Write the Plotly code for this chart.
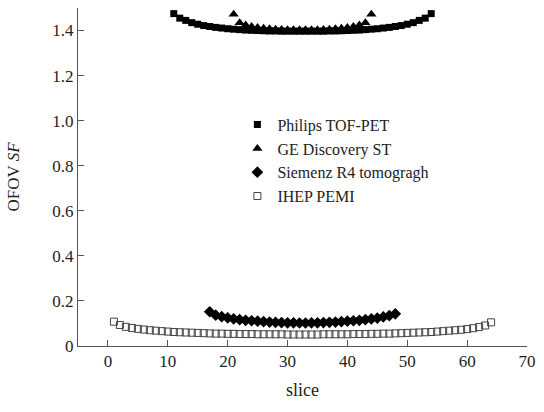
import plotly.graph_objects as go

philips_x = list(range(11, 55))
philips_y = [1.475, 1.455, 1.445, 1.435, 1.428, 1.422, 1.418, 1.414, 1.411, 1.408, 1.406,
             1.404, 1.402, 1.401, 1.400, 1.399, 1.398, 1.398, 1.397, 1.397, 1.397, 1.397,
             1.397, 1.397, 1.397, 1.397, 1.398, 1.398, 1.399, 1.400, 1.401, 1.402, 1.404,
             1.406, 1.408, 1.411, 1.414, 1.418, 1.422, 1.428, 1.435, 1.445, 1.455, 1.475]

ge_x = list(range(21, 45))
ge_y = [1.472, 1.435, 1.425, 1.418, 1.413, 1.410, 1.408, 1.406, 1.405, 1.404, 1.404, 1.403,
        1.403, 1.404, 1.404, 1.405, 1.406, 1.408, 1.410, 1.413, 1.418, 1.425, 1.435, 1.472]

siemens_x = list(range(17, 49))
siemens_y = [0.152, 0.137, 0.130, 0.125, 0.120, 0.117, 0.114, 0.112, 0.110, 0.108, 0.106,
             0.105, 0.104, 0.103, 0.103, 0.102, 0.102, 0.103, 0.103, 0.104, 0.105, 0.106,
             0.108, 0.110, 0.112, 0.114, 0.117, 0.120, 0.124, 0.129, 0.135, 0.143]

ihep_x = list(range(1, 65))
ihep_y = [0.108, 0.093, 0.085, 0.080, 0.076, 0.073, 0.070, 0.068, 0.066, 0.064, 0.062,
          0.061, 0.060, 0.059, 0.058, 0.057, 0.056, 0.055, 0.055, 0.054, 0.054, 0.053,
          0.053, 0.053, 0.052, 0.052, 0.052, 0.052, 0.052, 0.051, 0.051, 0.051,
          0.051, 0.051, 0.051, 0.052, 0.052, 0.052, 0.052, 0.052, 0.053, 0.053, 0.053,
          0.054, 0.054, 0.055, 0.055, 0.056, 0.057, 0.058, 0.059, 0.060, 0.061, 0.062,
          0.064, 0.066, 0.068, 0.070, 0.072, 0.075, 0.079, 0.084, 0.091, 0.105]

x_ticks = [0, 10, 20, 30, 40, 50, 60, 70]
y_ticks = [0, 0.2, 0.4, 0.6, 0.8, 1.0, 1.2, 1.4]
y_ticktext = ["0", "0.2", "0.4", "0.6", "0.8", "1.0", "1.2", "1.4"]

font = "Liberation Serif, Times New Roman, serif"

fig = go.Figure()
fig.add_trace(go.Scatter(x=philips_x, y=philips_y, mode="markers", name="Philips TOF-PET",
                         marker=dict(symbol="square", size=7, color="black")))
fig.add_trace(go.Scatter(x=ge_x, y=ge_y, mode="markers", name="GE Discovery ST",
                         marker=dict(symbol="triangle-up", size=9, color="black")))
fig.add_trace(go.Scatter(x=siemens_x, y=siemens_y, mode="markers", name="Siemenz R4 tomogragh",
                         marker=dict(symbol="diamond", size=9, color="black")))
fig.add_trace(go.Scatter(x=ihep_x, y=ihep_y, mode="markers", name="IHEP PEMI",
                         marker=dict(symbol="square-open", size=7, color="#444",
                                     line=dict(width=1, color="#444"))))

fig.update_layout(
    width=544, height=412,
    margin=dict(l=78, r=11, t=8, b=66),
    paper_bgcolor="white", plot_bgcolor="white",
    font=dict(family=font, size=17, color="#222"),
    showlegend=True,
    legend=dict(x=0.355, y=0.705, xanchor="left", yanchor="top",
                bgcolor="rgba(0,0,0,0)", font=dict(size=16, family=font, color="#222"),
                itemwidth=30, tracegroupgap=0),
    xaxis=dict(range=[-5, 70], tickvals=x_ticks, ticks="inside", ticklen=6,
               showgrid=False, zeroline=False, showline=True, linecolor="#555",
               tickcolor="#555", linewidth=1, ticklabeloverflow="allow",
               title=dict(text="slice", standoff=12, font=dict(size=18, family=font)),
               tickfont=dict(size=17, family=font)),
    yaxis=dict(range=[0, 1.5], tickvals=y_ticks, ticktext=y_ticktext, ticks="inside",
               ticklen=6, showgrid=False, zeroline=False, showline=True, linecolor="#555",
               tickcolor="#555", linewidth=1,
               title=dict(text="OFOV <i>SF</i>", standoff=28, font=dict(size=17, family=font)),
               tickfont=dict(size=17, family=font)),
)

fig.write_html("out.html", config={"displayModeBar": False},
               post_script="document.body.style.margin='0';document.body.style.overflow='hidden';")
